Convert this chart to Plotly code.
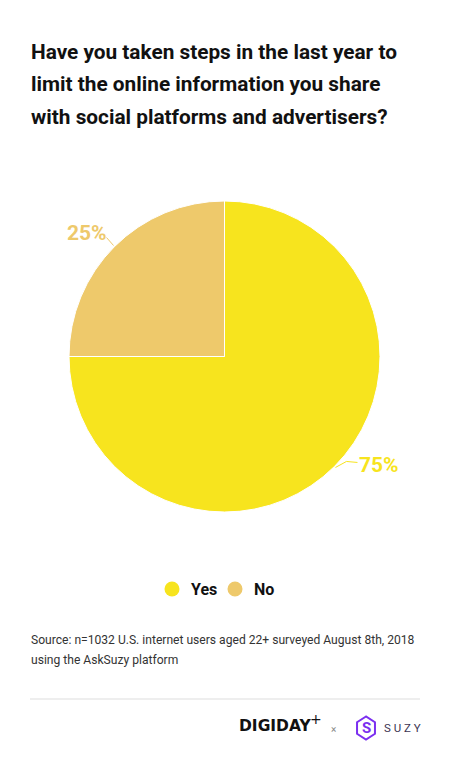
import math
import plotly.graph_objects as go

W, H = 450, 758

categories = ["Yes", "No"]
values = [75, 25]
colors = ["#F7E41E", "#EEC96B"]
title_lines = [
    "Have you taken steps in the last year to",
    "limit the online information you share",
    "with social platforms and advertisers?",
]
source_lines = [
    "Source: n=1032 U.S. internet users aged 22+ surveyed August 8th, 2018",
    "using the AskSuzy platform",
]

FONT = "Roboto, Arial, sans-serif"

# pie geometry (pixels)
cx, cy, r = 224.5, 356.5, 155.5

def px(x):
    return x / W

def py(y):
    return 1 - y / H

fig = go.Figure()
fig.add_trace(go.Pie(
    labels=categories, values=values, sort=False, direction="clockwise", rotation=0,
    marker=dict(colors=colors, line=dict(color="#FFFFFF", width=1)),
    textinfo="none", hoverinfo="label+percent", showlegend=False,
    domain=dict(x=[px(cx - r), px(cx + r)], y=[py(cy + r), py(cy - r)]),
))

annotations = []
shapes = []

# percentage labels with connectors, positioned from slice midpoints
total = sum(values)
cum = 0
for v, col in zip(values, colors):
    mid = (cum + v / 2) / total * 2 * math.pi
    cum += v
    ex = cx + r * math.sin(mid)
    ey = cy - r * math.cos(mid)
    pct = f"{round(v / total * 100)}%"
    if math.sin(mid) >= 0:
        p1 = (ex + 1, ey + 1)
        p2 = (ex + 12, ey - 5)
        p3 = (ex + 23, ey - 4)
        shapes.append(dict(type="path", xref="paper", yref="paper",
                           path=f"M {px(p1[0])},{py(p1[1])} L {px(p2[0])},{py(p2[1])} L {px(p3[0])},{py(p3[1])}",
                           line=dict(color=col, width=1)))
        annotations.append(dict(x=px(p3[0] + 0), y=py(p3[1] + 3), xref="paper", yref="paper",
                                text=f"<b>{pct}</b>", showarrow=False, xanchor="left", yanchor="middle",
                                font=dict(family=FONT, size=21, color=col)))
    else:
        p1 = (ex - 1, ey - 1)
        p2 = (ex - 8, ey - 9)
        shapes.append(dict(type="line", xref="paper", yref="paper",
                           x0=px(p1[0]), y0=py(p1[1]), x1=px(p2[0]), y1=py(p2[1]),
                           line=dict(color=col, width=1)))
        annotations.append(dict(x=px(p2[0] + 2), y=py(p2[1] - 4.5), xref="paper", yref="paper",
                                text=f"<b>{pct}</b>", showarrow=False, xanchor="right", yanchor="middle",
                                font=dict(family=FONT, size=21, color=col)))

# legend (drawn manually with circular swatches)
legend_x = [172, 235]
for c, col, lx in zip(categories, colors, legend_x):
    shapes.append(dict(type="circle", xref="paper", yref="paper",
                       x0=px(lx - 7.5), x1=px(lx + 7.5), y0=py(589 + 7.5), y1=py(589 - 7.5),
                       fillcolor=col, line=dict(width=0)))
    annotations.append(dict(x=px(lx + 17), y=py(589), xref="paper", yref="paper",
                            text=f"<b>{c}</b>", showarrow=False, xanchor="left", yanchor="middle",
                            font=dict(family=FONT, size=16, color="#111111")))

# title (one annotation per line for exact spacing)
for i, line in enumerate(title_lines):
    annotations.append(dict(x=px(29), y=py(52 + 32.5 * i), xref="paper", yref="paper",
                            text=f"<b>{line}</b>", showarrow=False,
                            xanchor="left", yanchor="middle", align="left",
                            font=dict(family=FONT, size=20.8, color="#111111")))
# source
for i, line in enumerate(source_lines):
    annotations.append(dict(x=px(29), y=py(640 + 20 * i), xref="paper", yref="paper",
                            text=line, showarrow=False,
                            xanchor="left", yanchor="middle", align="left",
                            font=dict(family=FONT, size=12.1, color="#333333")))

# divider
shapes.append(dict(type="line", xref="paper", yref="paper", x0=px(30), x1=px(420),
                   y0=py(699), y1=py(699), line=dict(color="#DDDDDD", width=1)))

# logos (approximations)
annotations.append(dict(x=px(237), y=py(726), xref="paper", yref="paper",
                        text="<b>DIGIDAY</b>", showarrow=False, xanchor="left", yanchor="middle",
                        font=dict(family="DejaVu Sans, sans-serif", size=15.5, color="#111111")))
annotations.append(dict(x=px(316), y=py(719), xref="paper", yref="paper",
                        text="+", showarrow=False, xanchor="center", yanchor="middle",
                        font=dict(family="DejaVu Sans, sans-serif", size=14, color="#111111")))
annotations.append(dict(x=px(333), y=py(729), xref="paper", yref="paper",
                        text="×", showarrow=False, xanchor="center", yanchor="middle",
                        font=dict(family=FONT, size=10, color="#888888")))
# hexagon
hx, hy, hr = 366, 728, 11.5
pts = []
for k in range(6):
    a = math.pi / 2 + k * math.pi / 3
    pts.append((hx + hr * math.cos(a) * 0.9, hy - hr * math.sin(a)))
hpath = "M " + " L ".join(f"{px(x)},{py(y)}" for x, y in pts) + " Z"
shapes.append(dict(type="path", xref="paper", yref="paper", path=hpath,
                   line=dict(color="#7B2FF0", width=2)))
annotations.append(dict(x=px(366), y=py(728), xref="paper", yref="paper",
                        text="<b>S</b>", showarrow=False, xanchor="center", yanchor="middle",
                        font=dict(family=FONT, size=15, color="#7B2FF0")))
annotations.append(dict(x=px(382), y=py(728), xref="paper", yref="paper",
                        text="S U Z Y", showarrow=False, xanchor="left", yanchor="middle",
                        font=dict(family=FONT, size=11.5, color="#3D3552")))

fig.update_layout(
    width=W, height=H, margin=dict(l=0, r=0, t=0, b=0),
    paper_bgcolor="#FFFFFF", plot_bgcolor="#FFFFFF",
    showlegend=False,
    annotations=annotations, shapes=shapes,
)

fig.write_html("out.html", config={"displayModeBar": False},
               post_script="document.body.style.margin='0';")
